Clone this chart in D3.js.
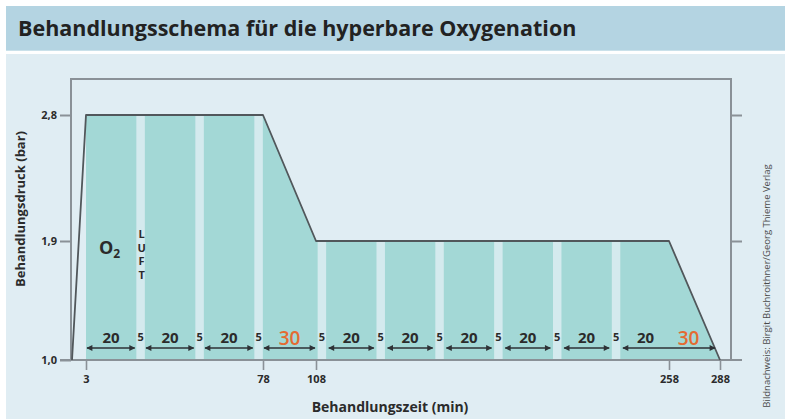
<!DOCTYPE html>
<html><head><meta charset="utf-8">
<script src="https://cdn.jsdelivr.net/npm/d3@7"></script>
<style>
html,body{margin:0;padding:0;background:#fff;}
svg{display:block;font-family:"Open Sans","Noto Sans",sans-serif;}
</style></head>
<body>
<svg id="c" width="791" height="419"></svg>
<script>
// ---- data ----
const titleText = "Behandlungsschema für die hyperbare Oxygenation";
const yAxisTitle = "Behandlungsdruck (bar)";
const xAxisTitle = "Behandlungszeit (min)";
const creditText = "Bildnachweis: Birgit Buchroithner/Georg Thieme Verlag";

const profileTimes    = [0, 3, 78, 108, 258, 288];
const profilePressure = [1.0, 2.8, 2.8, 1.9, 1.9, 1.0];

const startTime = 3;
const segDur   = [20, 5, 20, 5, 20, 5, 30, 5, 20, 5, 20, 5, 20, 5, 20, 5, 20, 5, 20, 30];
const segType  = ["O2","Luft","O2","Luft","O2","Luft","O2","Luft","O2","Luft","O2","Luft","O2","Luft","O2","Luft","O2","Luft","O2","O2"];
const segLabel = ["20","5","20","5","20","5","30","5","20","5","20","5","20","5","20","5","20","5","20","30"];

const arrowStart = [3, 28, 53, 78, 113, 138, 163, 188, 213, 238];
const arrowEnd   = [23, 48, 73, 108, 133, 158, 183, 208, 233, 288];

const xTickValues = [3, 78, 108, 258, 288];
const xTickLabels = ["3", "78", "108", "258", "288"];
const yTickValues = [1.0, 1.9, 2.8];
const yTickLabels = ["1,0", "1,9", "2,8"];
const rightTickValues = [1.9, 2.8];

// ---- layout ----
const svg = d3.select("#c");
const W = 791, H = 419;
const frame = {left: 71, right: 731, top: 79, bottom: 360};

// schematic (piecewise) scales, as in the original drawing
const x = d3.scaleLinear().domain(profileTimes).range([72, 86, 263, 316, 669, 720]);
const y = d3.scaleLinear().domain(yTickValues).range([360, 241, 115]);
const pressureAt = d3.scaleLinear().domain(profileTimes).range(profilePressure);

const teal = "#a3d8d6", gapCol = "#d4eaee", panel = "#e0edf3", band = "#b4d4e2";
const ink = "#2b2b2b", axisCol = "#8a9197", orange = "#e46b32";

// backgrounds
svg.append("rect").attr("width", W).attr("height", H).attr("fill", "#fff");
svg.append("rect").attr("x", 6).attr("y", 6).attr("width", 779).attr("height", 44.7).attr("fill", band);
svg.append("rect").attr("x", 6).attr("y", 54).attr("width", 779).attr("height", H - 54).attr("fill", panel);

svg.append("text").attr("x", 18).attr("y", 36)
  .attr("font-size", 21.5).attr("font-weight", 700).attr("fill", "#222")
  .text(titleText);

// segments
let t = startTime;
const segs = segDur.map((d, i) => { const s = {t0: t, t1: t + d, type: segType[i], label: segLabel[i]}; t += d; return s; });

// area under the profile (from start of O2)
const areaPts = profileTimes.map((tt, i) => [tt, profilePressure[i]]).filter(p => p[0] >= startTime);
svg.append("path")
  .attr("d", d3.area().x(p => x(p[0])).y0(y(1.0)).y1(p => y(p[1]))(areaPts))
  .attr("fill", teal);

// air breaks (lighter stripes)
svg.selectAll("rect.gap").data(segs.filter(s => s.type === "Luft")).join("rect")
  .attr("class", "gap")
  .attr("x", s => { const a = x(s.t0), b = x(s.t1); return (a + b) / 2 - (b - a) * 0.36 + (s.t1 <= 78 ? 1.5 : 0); })
  .attr("width", s => (x(s.t1) - x(s.t0)) * 0.72)
  .attr("y", s => y(pressureAt(s.t0)))
  .attr("height", s => y(1.0) - y(pressureAt(s.t0)))
  .attr("fill", gapCol);

// frame
const fr = svg.append("g").attr("stroke", axisCol).attr("stroke-width", 2).attr("fill", "none");
fr.append("path").attr("d", `M${frame.left},${frame.bottom}V${frame.top}H${frame.right}V${frame.bottom}`);

// axes
const yAx = svg.append("g").attr("transform", `translate(${frame.left},0)`)
  .call(d3.axisLeft(y).tickValues(yTickValues).tickFormat((d, i) => yTickLabels[i]).tickSize(11).tickPadding(3));
const rAx = svg.append("g").attr("transform", `translate(${frame.right},0)`)
  .call(d3.axisRight(y).tickValues(rightTickValues).tickFormat("").tickSize(11));
const xAx = svg.append("g").attr("transform", `translate(0,${frame.bottom})`)
  .call(d3.axisBottom(x).tickValues(xTickValues).tickFormat((d, i) => xTickLabels[i]).tickSize(10).tickPadding(5));
[yAx, rAx, xAx].forEach(g => {
  g.select(".domain").remove();
  g.selectAll("line").attr("stroke", axisCol).attr("stroke-width", 2);
  g.selectAll("text").attr("font-size", 11).attr("font-weight", 700).attr("fill", ink)
    .attr("font-family", "'Open Sans','Noto Sans',sans-serif");
});
xAx.selectAll(".tick line").attr("y1", -1).attr("stroke-width", 1.6);
// bottom baseline spanning the chart
svg.append("line").attr("x1", 60).attr("x2", 742).attr("y1", frame.bottom).attr("y2", frame.bottom)
  .attr("stroke", axisCol).attr("stroke-width", 2);

// pressure profile line
svg.append("path")
  .attr("d", d3.line().x((d, i) => x(d)).y((d, i) => y(profilePressure[i]))(profileTimes))
  .attr("fill", "none").attr("stroke", "#51575b").attr("stroke-width", 1.8).attr("stroke-linejoin", "round");

// arrows
const defs = svg.append("defs");
defs.append("marker").attr("id", "ah").attr("viewBox", "0 0 10 10").attr("refX", 9).attr("refY", 5)
  .attr("markerWidth", 7).attr("markerHeight", 6).attr("markerUnits", "userSpaceOnUse").attr("orient", "auto-start-reverse")
  .append("path").attr("d", "M0,0L10,5L0,10Z").attr("fill", "#2e3236");
const arrowY = 348;
svg.selectAll("line.arr").data(arrowStart).join("line")
  .attr("class", "arr")
  .attr("x1", (d, i) => x(d) + 1).attr("x2", (d, i) => x(arrowEnd[i]) - (arrowEnd[i] === 288 ? 5 : (arrowEnd[i] <= 78 ? -1.5 : 1)))
  .attr("y1", arrowY).attr("y2", arrowY)
  .attr("stroke", "#2e3236").attr("stroke-width", 1.6)
  .attr("marker-start", "url(#ah)").attr("marker-end", "url(#ah)");

// segment labels
svg.selectAll("text.seg").data(segs).join("text")
  .attr("class", "seg")
  .attr("x", s => (x(s.t0) + x(s.t1)) / 2 - (s.label === "30" && s.t1 === 288 ? 6 : 0) + (s.t1 <= 78 ? 1.5 : 0))
  .attr("y", s => s.label === "5" ? 341 : (s.label === "30" ? 345 : 343))
  .attr("text-anchor", "middle")
  .attr("font-size", s => s.label === "5" ? 11 : (s.label === "30" ? 19 : 15))
  .attr("font-weight", s => s.label === "30" ? 600 : 700)
  .attr("fill", s => s.label === "30" ? orange : ink)
  .text(s => s.label);

// O2 label
const o2 = svg.append("text").attr("x", x(startTime) + 13).attr("y", y(1.9) + 13)
  .attr("font-size", 18).attr("font-weight", 700).attr("fill", ink);
o2.append("tspan").text("O");
o2.append("tspan").attr("font-size", 12).attr("dy", 4).text("2");

// LUFT label (vertical letters in the first air break)
const firstGap = segs.find(s => s.type === "Luft");
svg.selectAll("text.luft").data(["L", "U", "F", "T"]).join("text")
  .attr("class", "luft")
  .attr("x", (x(firstGap.t0) + x(firstGap.t1)) / 2 + 2.5)
  .attr("y", (d, i) => 238 + i * 13.5)
  .attr("text-anchor", "middle").attr("font-size", 11).attr("font-weight", 700).attr("fill", ink)
  .text(d => d);

// axis titles
svg.append("text").attr("transform", "translate(25,209) rotate(-90)")
  .attr("text-anchor", "middle").attr("font-size", 13).attr("font-weight", 700).attr("fill", ink)
  .text(yAxisTitle);
svg.append("text").attr("x", 390).attr("y", 411.5)
  .attr("text-anchor", "middle").attr("font-size", 14).attr("font-weight", 700).attr("fill", ink)
  .text(xAxisTitle);

// credit
svg.append("text").attr("transform", "translate(770,286) rotate(-90)")
  .attr("text-anchor", "middle").attr("font-size", 9.5).attr("fill", "#4a4a4a")
  .text(creditText);
</script>
</body></html>
